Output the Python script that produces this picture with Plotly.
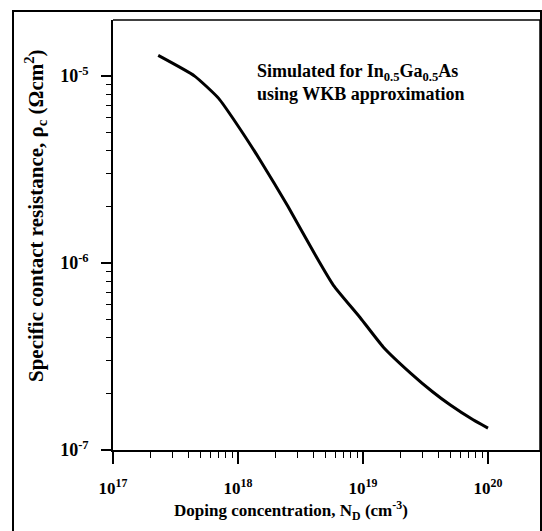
import plotly.graph_objects as go

doping = [2.3e17, 4.5e17, 7e17, 9.5e17, 1.5e18, 2.5e18, 4.3e18, 5.8e18, 9.5e18,
          1.45e19, 2.4e19, 3.6e19, 5e19, 7.6e19, 1e20]
rho_c = [1.29e-5, 1.0e-5, 7.6e-6, 5.7e-6, 3.56e-6, 2.02e-6, 1.06e-6, 7.6e-7, 5.1e-7,
         3.56e-7, 2.58e-7, 2.05e-7, 1.74e-7, 1.45e-7, 1.31e-7]

x_tickvals = [1e17, 1e18, 1e19, 1e20]
x_ticktext = ["<b>10<sup>17</sup></b>", "<b>10<sup>18</sup></b>", "<b>10<sup>19</sup></b>", "<b>10<sup>20</sup></b>"]
y_tickvals = [1e-7, 1e-6, 1e-5]
y_ticktext = ["<b>10<sup>-7</sup></b>", "<b>10<sup>-6</sup></b>", "<b>10<sup>-5</sup></b>"]

x_minor = [float(m) * 10.0 ** e for e in (17, 18, 19) for m in range(2, 10)]
y_minor = [float(m) * 10.0 ** e for e in (-7, -6, -5) for m in range(2, 10)]

FONT = "Liberation Serif"

# pixel geometry helpers (plot area: x 113..540, y 20..450)
L, R, T, B = 113, 540, 20, 450
def px(x):
    return (x - L) / (R - L)
def py(y):
    return (B - y) / (B - T)

fig = go.Figure()
fig.add_trace(go.Scatter(x=doping, y=rho_c, mode="lines",
                         line=dict(color="black", width=3, shape="spline", smoothing=0.5),
                         showlegend=False))

fig.update_layout(
    width=542, height=531,
    margin=dict(l=L, r=542 - R, t=T, b=531 - B, autoexpand=False),
    paper_bgcolor="white", plot_bgcolor="white",
    font=dict(family=FONT, color="black", size=15),
    xaxis=dict(type="log", range=[17, 20.416], showgrid=False, zeroline=False,
               automargin=False,
               showline=True, linecolor="black", linewidth=1.5,
               tickvals=x_tickvals, ticktext=x_ticktext, ticks="outside",
               ticklen=12, tickwidth=1.5, tickcolor="black",
               ticklabelstandoff=10, tickfont=dict(size=17),
               minor=dict(tickvals=x_minor, ticks="outside", ticklen=6,
                          tickwidth=1.2, tickcolor="black", showgrid=False)),
    yaxis=dict(type="log", range=[-7, -4.70], showgrid=False, zeroline=False,
               automargin=False,
               showline=True, linecolor="black", linewidth=1.5,
               tickvals=y_tickvals, ticktext=y_ticktext, ticks="outside",
               ticklen=10, tickwidth=1.5, tickcolor="black",
               ticklabelstandoff=9, tickfont=dict(size=18),
               minor=dict(tickvals=y_minor, ticks="outside", ticklen=5,
                          tickwidth=1.2, tickcolor="black", showgrid=False)),
)

# plot box top and right lines
fig.add_shape(type="line", xref="paper", yref="paper", x0=0, x1=1, y0=1, y1=1,
              line=dict(color="black", width=1.5))
fig.add_shape(type="line", xref="paper", yref="paper", x0=1, x1=1, y0=0.0, y1=1,
              line=dict(color="black", width=1.5))
# outer frame
fig.add_shape(type="rect", xref="paper", yref="paper",
              x0=px(13), x1=px(541), y0=py(536), y1=py(11),
              line=dict(color="black", width=2))

# axis titles
fig.add_annotation(xref="paper", yref="paper", x=px(291), y=py(510),
                   xanchor="center", yanchor="middle", showarrow=False,
                   text="<b>Doping concentration, N<sub>D</sub> (cm<sup>-3</sup>)</b>",
                   font=dict(size=17, family=FONT))
fig.add_annotation(xref="paper", yref="paper", x=px(36), y=py(216),
                   xanchor="center", yanchor="middle", showarrow=False, textangle=-90,
                   text="<b>Specific contact resistance, ρ<sub>c</sub> (Ωcm<sup>2</sup>)</b>",
                   font=dict(size=21, family=FONT))

fig.add_annotation(xref="paper", yref="paper", x=px(255), y=py(82),
                   xanchor="left", yanchor="middle", showarrow=False, align="left",
                   text="<b>Simulated for In<sub>0.5</sub>Ga<sub>0.5</sub>As<br>using WKB approximation</b>",
                   font=dict(size=18, family=FONT))

fig.write_html("out.html", config={"displayModeBar": False},
               post_script="document.body.style.margin='0';document.body.style.overflow='hidden';")
